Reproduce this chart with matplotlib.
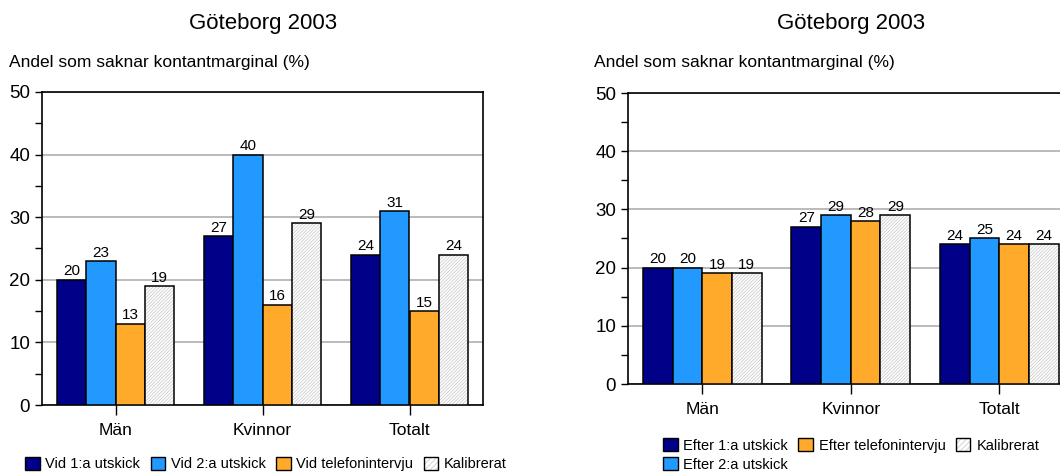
import numpy as np
import matplotlib
matplotlib.use("Agg")
import matplotlib.pyplot as plt
from matplotlib.patches import Patch

plt.rcParams["font.family"] = ["Liberation Sans", "DejaVu Sans"]
plt.rcParams["hatch.linewidth"] = 0.5

categories = ["Män", "Kvinnor", "Totalt"]

left_labels = ["Vid 1:a utskick", "Vid 2:a utskick", "Vid telefonintervju", "Kalibrerat"]
left_values = [
    [20, 27, 24],
    [23, 40, 31],
    [13, 16, 15],
    [19, 29, 24],
]

right_labels = ["Efter 1:a utskick", "Efter 2:a utskick", "Efter telefonintervju", "Kalibrerat"]
right_values = [
    [20, 27, 24],
    [20, 29, 25],
    [19, 28, 24],
    [19, 29, 24],
]

colors = ["#000088", "#2299FF", "#FFAA2A", "white"]
hatches = [None, None, None, "//////////"]
hatch_gray = "#c4c4c4"

title = "Göteborg 2003"
ylabel = "Andel som saknar kontantmarginal (%)"


def draw_bars(ax, values):
    x = np.arange(len(categories))
    width = 0.2
    for i, vals in enumerate(values):
        pos = x + (i - 1.5) * width
        if hatches[i]:
            ax.bar(pos, vals, width, color="white", edgecolor=hatch_gray,
                   hatch=hatches[i], linewidth=0, zorder=3)
            bars = ax.bar(pos, vals, width, fill=False, edgecolor="black",
                          linewidth=1.1, zorder=4)
        else:
            bars = ax.bar(pos, vals, width, color=colors[i], edgecolor="black",
                          linewidth=1.1, zorder=3)
        ax.bar_label(bars, padding=1, fontsize=11)

    ax.set_xlim(-0.5, 2.5)
    ax.set_ylim(0, 50)
    ax.set_xticks(x)
    ax.set_xticklabels(categories, fontsize=12.5)
    ax.set_yticks([0, 10, 20, 30, 40, 50])
    ax.set_yticks([5, 15, 25, 35, 45], minor=True)
    ax.tick_params(axis="y", labelsize=13.5, length=5, width=1, direction="out")
    ax.tick_params(axis="y", which="minor", length=5, width=1)
    ax.tick_params(axis="x", length=7, width=1, pad=6)
    ax.yaxis.grid(True, color="#a8a8a8", linewidth=1.1, zorder=0)
    ax.set_axisbelow(True)
    for s in ax.spines.values():
        s.set_linewidth(1.2)


def legend_handles(labels):
    handles = []
    for i, lab in enumerate(labels):
        if hatches[i]:
            back = Patch(facecolor="white", edgecolor=hatch_gray,
                         hatch="//////", linewidth=0)
            frame = Patch(fill=False, edgecolor="black", linewidth=1)
            handles.append((back, frame))
        else:
            handles.append(Patch(facecolor=colors[i], edgecolor="black",
                                 linewidth=1))
    return handles


fig = plt.figure(figsize=(10.6, 4.73), dpi=100)

ax1 = fig.add_axes([42 / 1060, 1 - 405 / 473, 441 / 1060, 313 / 473])
draw_bars(ax1, left_values)

ax2 = fig.add_axes([628 / 1060, 1 - 384 / 473, 445.5 / 1060, 291 / 473])
draw_bars(ax2, right_values)

fig.text(263 / 1060, 1 - 23 / 473, title, ha="center", va="center", fontsize=16)
fig.text(851 / 1060, 1 - 23 / 473, title, ha="center", va="center", fontsize=16)
fig.text(9 / 1060, 1 - 62 / 473, ylabel, ha="left", va="center", fontsize=12.5)
fig.text(594 / 1060, 1 - 63 / 473, ylabel, ha="left", va="center", fontsize=12.5)

fig.legend(legend_handles(left_labels), left_labels, loc="center left",
           bbox_to_anchor=(25 / 1060, 1 - 464 / 473), ncol=4, frameon=False,
           fontsize=10.5, handlelength=1.0, handleheight=1.0, handletextpad=0.4,
           columnspacing=0.7, borderpad=0, borderaxespad=0)

fig.legend(legend_handles(right_labels), right_labels, loc="center left",
           bbox_to_anchor=(663 / 1060, 1 - 455 / 473), ncol=3, frameon=False,
           fontsize=10.5, handlelength=1.0, handleheight=1.0, handletextpad=0.4,
           columnspacing=0.7, labelspacing=0.3, borderpad=0, borderaxespad=0)

fig.savefig("out.png", dpi=100)
